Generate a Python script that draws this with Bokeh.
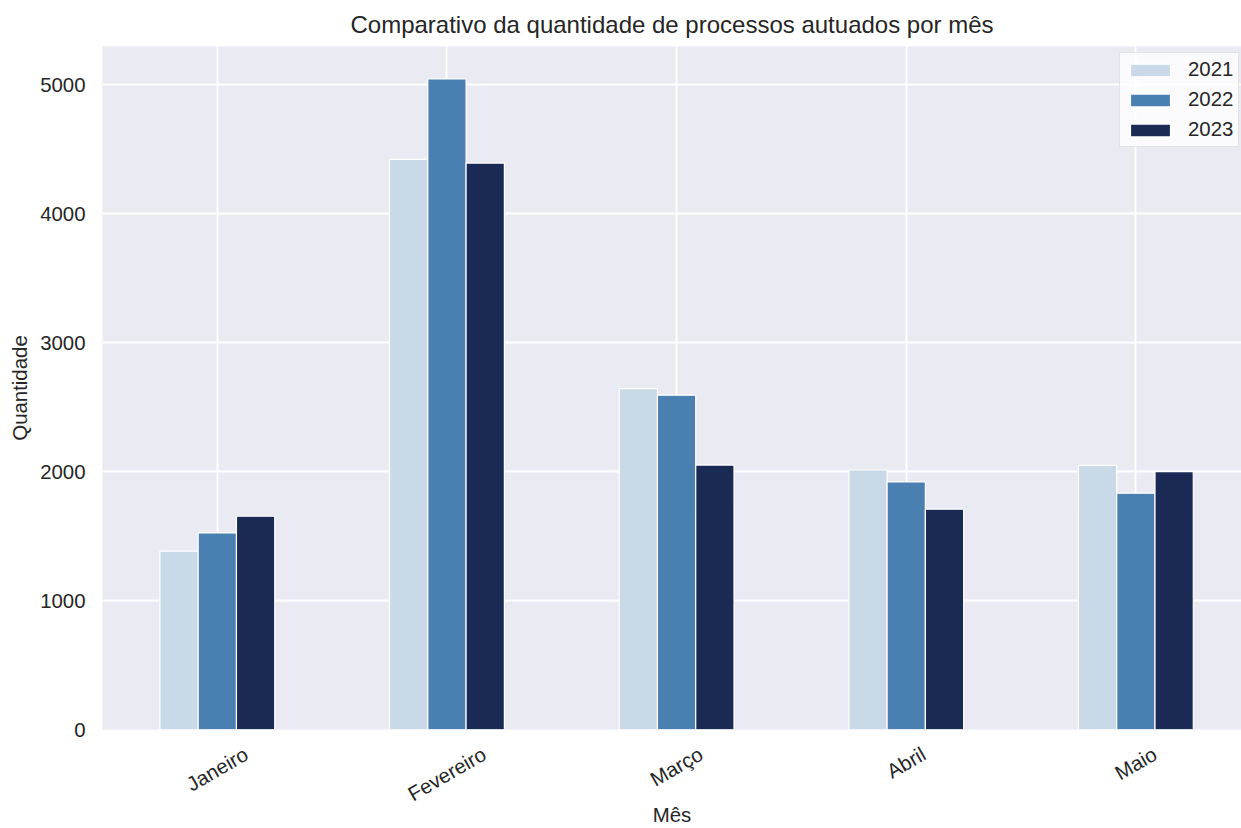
import math
from bokeh.plotting import figure
from bokeh.models import (ColumnDataSource, FixedTicker, Range1d, Legend,
                          LegendItem, CustomJSTickFormatter)
from bokeh.embed import file_html
from bokeh.resources import INLINE

meses = ["Janeiro", "Fevereiro", "Março", "Abril", "Maio"]
anos = ["2021", "2022", "2023"]
v2021 = [1383, 4423, 2644, 2013, 2049]
v2022 = [1525, 5046, 2593, 1920, 1833]
v2023 = [1654, 4394, 2051, 1709, 2000]
cores = ["#C9D9E7", "#4A7FB1", "#1A2A55"]

FONT = "Liberation Sans"
TXT = "#262626"
FS = 20.4  # px, tick/axis label size

WIDTH, HEIGHT = 1241, 828
LEFT, BOTTOM, TOP = 102, 98, 45
X0, X1 = -0.5, 4.46
PX_PER_UNIT = (WIDTH - LEFT) / (X1 - X0)

# Arial / Liberation Sans advance widths (per 1000 em), used to centre the
# rotated month labels under their groups (matplotlib-like placement)
W = {"J": 500, "a": 556, "n": 556, "e": 556, "i": 222, "r": 333, "o": 556,
     "F": 611, "v": 500, "M": 833, "ç": 500, "A": 667, "b": 556, "l": 222}

def text_len(s):
    return sum(W.get(c, 556) for c in s) * FS / 1000.0

ANG = math.pi / 6

p = figure(width=WIDTH, height=HEIGHT, output_backend="svg", toolbar_location=None,
           x_range=Range1d(X0, X1), y_range=Range1d(0, 5298),
           min_border_left=LEFT, min_border_right=0, min_border_bottom=BOTTOM,
           min_border_top=TOP)
p.background_fill_color = "#EAEAF2"
p.border_fill_color = "white"
p.outline_line_color = None

p.title.text = "Comparativo da quantidade de processos autuados por mês"
p.title.align = "center"
p.title.text_font = FONT
p.title.text_font_size = "24px"
p.title.text_font_style = "normal"
p.title.text_color = TXT
p.title.standoff = 17

series = [v2021, v2022, v2023]
w = 0.5 / 3
items = []
for i, (ano, vals, cor) in enumerate(zip(anos, series, cores)):
    xs = [k + (i - 1) * w for k in range(len(meses))]
    src = ColumnDataSource(dict(x=xs, top=vals))
    r = p.vbar(x="x", top="top", width=w, source=src, fill_color=cor,
               line_color="white", line_width=1.2)
    items.append(LegendItem(label=ano, renderers=[r]))

# x axis: label anchor is the right end of the rotated text; shift so the
# rotated text is centred on its group
label_ticks = [k + math.cos(ANG) * text_len(m) / 2 / PX_PER_UNIT
               for k, m in enumerate(meses)]
p.xaxis.ticker = FixedTicker(ticks=label_ticks)
p.xaxis.formatter = CustomJSTickFormatter(args=dict(labels=meses),
                                          code="return labels[index]")
p.xaxis.major_label_orientation = ANG
p.xaxis.major_label_standoff = 23
p.xaxis.axis_label = "Mês"
p.xaxis.axis_label_standoff = -14
p.xaxis.axis_label_text_line_height = 1.0

p.yaxis.ticker = FixedTicker(ticks=[0, 1000, 2000, 3000, 4000, 5000])
p.yaxis.major_label_standoff = 17
p.yaxis.axis_label = "Quantidade"
p.yaxis.axis_label_standoff = 6

for ax in (p.xaxis, p.yaxis):
    ax.axis_line_color = None
    ax.major_tick_line_color = None
    ax.minor_tick_line_color = None
    ax.major_tick_out = 0
    ax.major_tick_in = 0
    ax.minor_tick_out = 0
    ax.minor_tick_in = 0
    ax.major_label_text_font = FONT
    ax.major_label_text_font_size = f"{FS}px"
    ax.major_label_text_color = TXT
    ax.axis_label_text_font = FONT
    ax.axis_label_text_font_size = f"{FS}px"
    ax.axis_label_text_font_style = "normal"
    ax.axis_label_text_color = TXT

p.xgrid.ticker = FixedTicker(ticks=list(range(len(meses))))
for g in (p.xgrid, p.ygrid):
    g.grid_line_color = "white"
    g.grid_line_width = 1.8

legend = Legend(items=items, location=(1017, 582))
legend.label_text_font = FONT
legend.label_text_font_size = f"{FS}px"
legend.label_text_color = TXT
legend.glyph_width = 50
legend.glyph_height = 16
legend.label_standoff = 13
legend.spacing = 7
legend.padding = 5
legend.margin = 0
legend.background_fill_color = "white"
legend.background_fill_alpha = 0.8
legend.border_line_color = "#CCCCCC"
legend.border_line_width = 1
p.add_layout(legend)

open("out.html", "w").write(file_html(p, INLINE))
